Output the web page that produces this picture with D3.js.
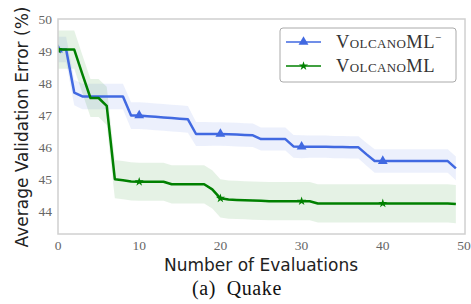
<!DOCTYPE html>
<html lang="en">
<head>
<meta charset="UTF-8">
<title>Quake</title>
<script src="https://d3js.org/d3.v7.min.js"></script>
<style>
    body { margin: 0; background: #fff; }
    .tick-label { font-family: "Liberation Serif", serif; font-size: 13.5px; fill: #666; }
    .axis-title { font-family: "DejaVu Sans", sans-serif; font-size: 17px; fill: #222; }
    .caption { font-family: "Liberation Serif", serif; font-size: 20px; word-spacing: 5px; letter-spacing: 0.6px; fill: #111; }
    .legend-text { font-family: "Liberation Serif", serif; font-size: 18.5px; font-variant: small-caps; letter-spacing: 0.4px; fill: #333; }
</style>
</head>
<body>
<svg width="471" height="304"></svg>
<script>
    // evaluations 0..49
    const evals = d3.range(0, 50);

    const volcanoMinus = [
        49.07, 49.07, 47.72, 47.6, 47.6, 47.6, 47.6, 47.6, 47.6, 47.0,
        47.0, 46.98, 46.96, 46.94, 46.92, 46.9, 46.88, 46.42, 46.42, 46.42,
        46.42, 46.41, 46.4, 46.39, 46.38, 46.26, 46.26, 46.26, 46.26, 46.03,
        46.02, 46.02, 46.02, 46.02, 46.01, 46.01, 46.0, 46.0, 45.78, 45.57,
        45.57, 45.57, 45.57, 45.57, 45.57, 45.57, 45.57, 45.57, 45.57, 45.34
    ];
    const volcanoMinusStd = [
        0.4, 0.4, 0.4, 0.4, 0.4, 0.4, 0.4, 0.4, 0.4, 0.42,
        0.42, 0.42, 0.42, 0.42, 0.42, 0.42, 0.42, 0.38, 0.38, 0.37,
        0.37, 0.37, 0.37, 0.37, 0.37, 0.36, 0.36, 0.36, 0.36, 0.36,
        0.36, 0.35, 0.35, 0.35, 0.35, 0.35, 0.35, 0.35, 0.36, 0.37,
        0.37, 0.37, 0.37, 0.37, 0.37, 0.37, 0.37, 0.37, 0.37, 0.37
    ];
    const volcano = [
        49.07, 49.07, 49.07, 48.3, 47.55, 47.55, 47.3, 45.0, 44.97, 44.93,
        44.92, 44.92, 44.92, 44.92, 44.84, 44.84, 44.84, 44.84, 44.84, 44.68,
        44.4, 44.36, 44.35, 44.34, 44.33, 44.32, 44.31, 44.31, 44.31, 44.31,
        44.31, 44.31, 44.24, 44.24, 44.24, 44.24, 44.24, 44.24, 44.24, 44.24,
        44.24, 44.24, 44.24, 44.24, 44.24, 44.24, 44.24, 44.24, 44.24, 44.22
    ];
    const volcanoStd = [
        0.6, 0.6, 0.6, 0.6, 0.6, 0.6, 0.6, 0.6, 0.6, 0.6,
        0.6, 0.6, 0.6, 0.6, 0.6, 0.6, 0.6, 0.6, 0.6, 0.6,
        0.6, 0.6, 0.6, 0.6, 0.6, 0.6, 0.6, 0.6, 0.6, 0.6,
        0.6, 0.6, 0.6, 0.6, 0.6, 0.6, 0.6, 0.6, 0.6, 0.6,
        0.6, 0.6, 0.6, 0.6, 0.6, 0.6, 0.6, 0.6, 0.6, 0.6
    ];

    const xTicks = [0, 10, 20, 30, 40, 50];
    const yTicks = [44, 45, 46, 47, 48, 49, 50];

    const svg = d3.select("svg");
    const pL = 58, pR = 465, pT = 19, pB = 234;

    const x = d3.scaleLinear().domain([0, 50]).range([pL, 464]);
    const y = d3.scaleLinear().domain([43.28, 50.03]).range([pB, pT]);

    svg.append("defs").append("clipPath").attr("id", "clip")
        .append("rect").attr("x", pL).attr("y", pT)
        .attr("width", pR - pL).attr("height", pB - pT);

    const series = [
        { name: "VolcanoML", sup: "\u2212", mean: volcanoMinus, std: volcanoMinusStd, color: "#4169e1", marker: d3.symbolTriangle, msize: 42 },
        { name: "VolcanoML", sup: "", mean: volcano, std: volcanoStd, color: "#008000", marker: d3.symbolStar, msize: 26 }
    ];

    const plot = svg.append("g").attr("clip-path", "url(#clip)");

    // bands
    series.forEach(s => {
        const area = d3.area()
            .x((d, i) => x(evals[i]))
            .y0((d, i) => y(s.mean[i] - s.std[i]))
            .y1((d, i) => y(s.mean[i] + s.std[i]));
        plot.append("path").datum(s.mean)
            .attr("d", area)
            .attr("fill", s.color)
            .attr("fill-opacity", 0.1);
    });

    // lines + markers
    series.forEach(s => {
        const line = d3.line().x((d, i) => x(evals[i])).y(d => y(d));
        plot.append("path").datum(s.mean)
            .attr("d", line)
            .attr("fill", "none")
            .attr("stroke", s.color)
            .attr("stroke-width", 2.5)
            .attr("stroke-linejoin", "round");
        plot.selectAll(null)
            .data(evals.filter(e => e % 10 === 0))
            .enter().append("path")
            .attr("d", d3.symbol().type(s.marker).size(s.msize))
            .attr("transform", e => `translate(${x(e)},${y(s.mean[e])})`)
            .attr("fill", s.color);
    });

    // frame
    svg.append("rect")
        .attr("x", pL).attr("y", pT)
        .attr("width", pR - pL).attr("height", pB - pT)
        .attr("fill", "none").attr("stroke", "#d0d0d0").attr("stroke-width", 1.5);

    // tick labels
    svg.selectAll(".xt").data(xTicks).enter().append("text")
        .attr("class", "tick-label")
        .attr("x", d => x(d)).attr("y", 250)
        .attr("text-anchor", "middle")
        .text(d => d);
    svg.selectAll(".yt").data(yTicks).enter().append("text")
        .attr("class", "tick-label")
        .attr("x", 52).attr("y", d => y(d) + 4.5)
        .attr("text-anchor", "end")
        .text(d => d);

    // axis titles
    svg.append("text").attr("class", "axis-title")
        .attr("x", 261).attr("y", 271)
        .attr("text-anchor", "middle")
        .text("Number of Evaluations");
    svg.append("text").attr("class", "axis-title")
        .attr("transform", "translate(28,127) rotate(-90)")
        .attr("text-anchor", "middle")
        .text("Average Validation Error (%)");
    svg.append("text").attr("class", "caption")
        .attr("x", 237).attr("y", 295)
        .attr("text-anchor", "middle")
        .text("(a) Quake");

    // legend
    const lg = svg.append("g");
    lg.append("rect")
        .attr("x", 280).attr("y", 28).attr("width", 176).attr("height", 54)
        .attr("rx", 3).attr("fill", "#fff").attr("fill-opacity", 0.8)
        .attr("stroke", "#aaa").attr("stroke-width", 1);
    series.forEach((s, i) => {
        const ly = 42 + i * 24;
        lg.append("line")
            .attr("x1", 286).attr("x2", 321).attr("y1", ly).attr("y2", ly)
            .attr("stroke", s.color).attr("stroke-width", 1.5);
        lg.append("path")
            .attr("d", d3.symbol().type(s.marker).size(s.msize))
            .attr("transform", `translate(303.5,${ly})`)
            .attr("fill", s.color);
        const t = lg.append("text").attr("class", "legend-text")
            .attr("x", 336).attr("y", ly + 6).text(s.name);
        if (s.sup) {
            t.append("tspan").attr("dy", -7).attr("font-size", 11).text(s.sup);
        }
    });
</script>
</body>
</html>
